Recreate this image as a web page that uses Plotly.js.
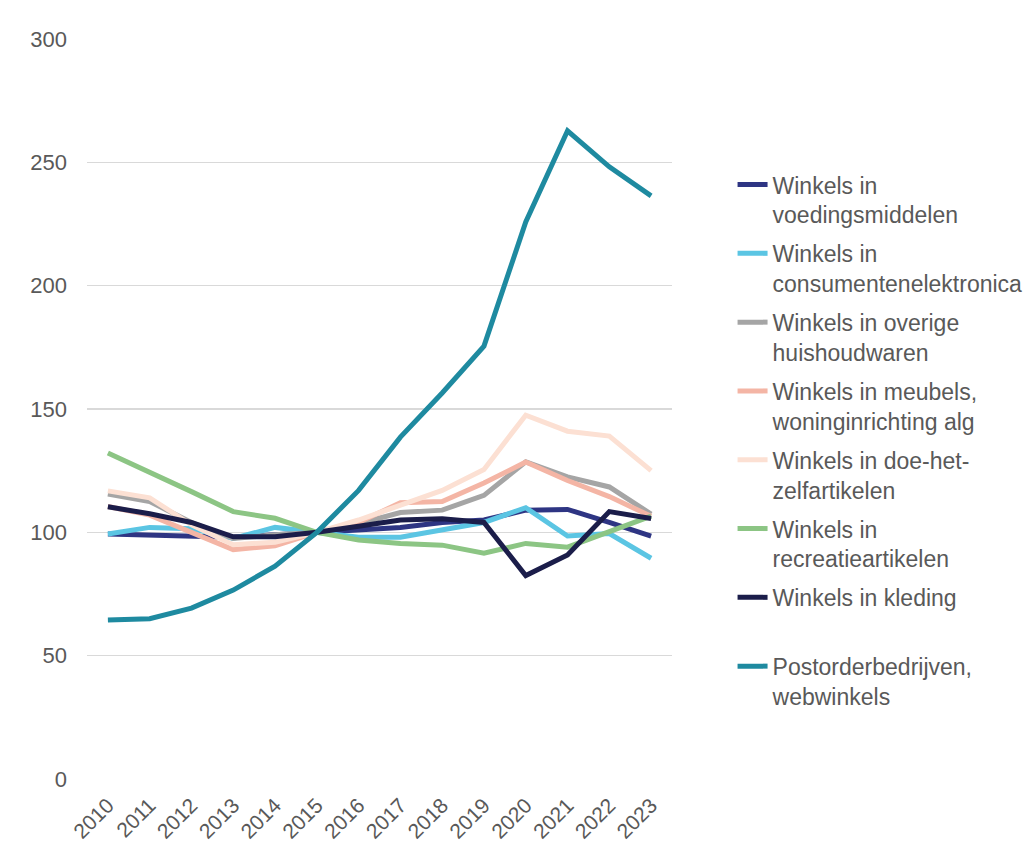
<!DOCTYPE html>
<html>
<head>
<meta charset="utf-8">
<script src="https://cdn.plot.ly/plotly-3.0.1.min.js"></script>
<style>html,body{margin:0;padding:0;background:#fff;}#chart{width:1036px;height:845px;}</style>
</head>
<body>
<div id="chart"></div>
<script>
const years = ["2010","2011","2012","2013","2014","2015","2016","2017","2018","2019","2020","2021","2022","2023"];
const seriesNames = [
  "Winkels in<br>voedingsmiddelen",
  "Winkels in<br>consumentenelektronica",
  "Winkels in overige<br>huishoudwaren",
  "Winkels in meubels,<br>woninginrichting alg",
  "Winkels in doe-het-<br>zelfartikelen",
  "Winkels in<br>recreatieartikelen",
  "Winkels in kleding<br> ",
  "Postorderbedrijven,<br>webwinkels"
];
const voeding      = [99.3, 99, 98.5, 98, 99, 100, 101, 102, 104, 105, 109, 109.3, 104, 98.5];
const elektronica  = [99.3, 102, 101.5, 97.5, 102, 100, 98, 98, 101, 104, 110, 98.5, 99.5, 89.5];
const huishoud     = [115.5, 112.5, 104, 97.5, 99, 100, 103.5, 108, 109, 115, 128.6, 122.5, 118.4, 107.4];
const meubels      = [110.5, 107, 100, 93, 94.5, 100, 104, 112, 112.5, 120, 128.5, 121, 114.5, 106.5];
const doeHetZelf   = [116.8, 114, 103, 95, 96, 100, 105, 111, 117, 125.5, 147.5, 141, 139, 125];
const recreatie    = [132.2, 124.6, 116.5, 108.4, 105.7, 100, 96.9, 95.5, 94.8, 91.5, 95.5, 94, 100.3, 106.6];
const kleding      = [110.4, 107.5, 104, 98.2, 98.2, 100, 102.5, 105, 105.5, 104, 82.5, 90.8, 108.4, 105.6];
const webwinkels   = [64.5, 65, 69.3, 76.6, 86.3, 100, 117, 138.6, 156.5, 175.5, 225.8, 262.8, 248.2, 236.4];
const yTicks = [0, 50, 100, 150, 200, 250, 300];

const allValues = [voeding, elektronica, huishoud, meubels, doeHetZelf, recreatie, kleding, webwinkels];
const colors = ["#2E3583", "#5BC5E3", "#A5A5A5", "#F4B5A5", "#FCE0D3", "#8CC584", "#1B1D4A", "#1E8AA0"];

const traces = allValues.map((v, i) => ({
  type: "scatter",
  mode: "lines",
  x: years,
  y: v,
  name: seriesNames[i],
  legendgroup: "g" + i,
  line: {color: colors[i], width: 5}
}));

const family = "Liberation Sans, Arial, sans-serif";
const tickFont = {family: family, size: 22, color: "#595959"};
const xTickFont = {family: family, size: 21, color: "#595959"};
const legendFont = {family: family, size: 23, color: "#595959"};

const layout = {
  width: 1036,
  height: 845,
  margin: {l: 87, r: 364, t: 39, b: 66},
  paper_bgcolor: "#fff",
  plot_bgcolor: "#fff",
  font: tickFont,
  showlegend: true,
  legend: {
    xref: "container", yref: "container",
    x: 0.7071, y: 0.807,
    xanchor: "left", yanchor: "top",
    font: legendFont,
    valign: "top",
    tracegroupgap: 6,
    itemwidth: 30,
    maxheight: 800,
    bgcolor: "rgba(0,0,0,0)"
  },
  xaxis: {
    type: "category",
    range: [-0.5, 13.5],
    tickangle: -45,
    showgrid: false,
    showline: false,
    zeroline: false,
    ticks: "",
    ticklabelstandoff: 9,
    tickfont: xTickFont,
    fixedrange: true
  },
  yaxis: {
    range: [0, 300],
    tickvals: yTicks,
    ticktext: yTicks.map(String),
    showgrid: true,
    gridcolor: "#D9D9D9",
    gridwidth: 1.5,
    zeroline: false,
    showline: false,
    ticks: "",
    ticklabelstandoff: 19,
    tickfont: tickFont,
    fixedrange: true
  }
};

Plotly.newPlot("chart", traces, layout, {displayModeBar: false, staticPlot: true});
</script>
</body>
</html>
